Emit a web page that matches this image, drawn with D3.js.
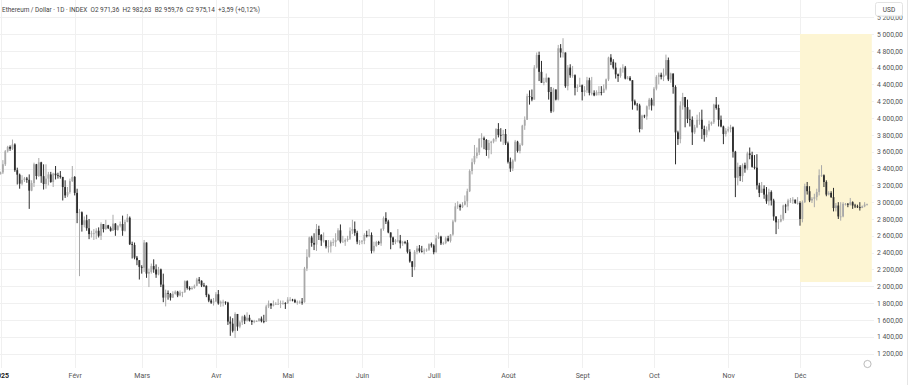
<!DOCTYPE html>
<html><head><meta charset="utf-8">
<script src="https://cdn.jsdelivr.net/npm/d3@7"></script>
<style>
body{margin:0;background:#fff;}
svg{display:block;font-family:Roboto,"Noto Sans",sans-serif;}
</style>
</head><body>
<svg id="c" width="908" height="385"></svg>
<script>
// ---------- DATA ----------
const startDate = "2025-01-01";
const firstOpen = 3332;
const closes = [
3353,3451,3605,3657,3635,3686,3380,3327,3220,3265,3281,3266,3137,3227,3451,3311,3474,3309,3215,3280,3330,3240,3340,3320,3315,3300,3180,3080,3120,3250,3300,
3110,2870,2880,2730,2785,2690,2620,2630,2630,2660,2600,2740,2680,2725,2690,2660,2745,2670,2720,2740,2660,2765,2815,2500,2490,2340,2310,2230,
2220,2520,2150,2170,2240,2200,2140,2200,2020,1865,1920,1910,1865,1910,1935,1890,1925,1930,2060,1980,1965,1980,2005,2080,2065,2010,2005,1895,1830,1805,1820,
1905,1795,1815,1815,1805,1580,1555,1470,1670,1520,1570,1640,1590,1625,1590,1575,1585,1585,1615,1585,1580,1760,1795,1770,1785,1790,1790,1800,1800,1795,
1840,1840,1835,1810,1815,1815,1810,2210,2350,2580,2515,2495,2680,2610,2545,2545,2475,2475,2525,2525,2550,2665,2530,2530,2550,2565,2660,2680,2635,2530,2530,
2540,2610,2595,2610,2420,2480,2525,2510,2680,2810,2770,2640,2580,2525,2545,2545,2510,2525,2520,2410,2295,2230,2410,2450,2420,2415,2425,2435,2500,2485,
2405,2570,2590,2510,2515,2570,2540,2615,2770,2950,2960,2940,2970,3010,3130,3370,3475,3550,3590,3755,3760,3740,3620,3705,3720,3750,3870,3800,3795,3810,3700,
3480,3400,3495,3720,3610,3680,3910,3980,4260,4250,4220,4600,4750,4550,4420,4430,4480,4310,4080,4340,4220,4830,4780,4780,4380,4600,4510,4510,4360,4370,4390,
4310,4330,4450,4300,4300,4270,4310,4310,4300,4350,4460,4720,4670,4600,4520,4500,4590,4600,4470,4480,4450,4200,4160,4150,3870,4030,4020,4140,4220,4150,
4350,4490,4515,4490,4515,4690,4460,4530,4370,3830,3750,4150,4250,4130,3990,3980,3830,3890,3980,3980,3870,3800,3860,3930,3950,4160,4120,3980,3900,3810,3850,
3870,3890,3600,3290,3420,3310,3440,3400,3580,3560,3420,3410,3200,3110,3160,3090,3010,3120,3020,2830,2760,2770,2800,2960,2950,3020,3020,3030,2990,2990,
2800,3000,3190,3130,3020,3040,3060,3120,3320,3320,3240,3090,3110,3060,2930,2960,2830,2830,2980,2980,2970,3000,2960,2950,2940,2930,2950,2971.36,2975.14
];
const highs = [
3363,3500,3620,3670,3675,3745,3700,3410,3340,3320,3300,3300,3330,3260,3470,3455,3525,3480,3450,3450,3360,3360,3350,3430,3350,3370,3300,3260,3180,3280,3430,
3310,3160,2920,2890,2830,2850,2800,2660,2680,2690,2700,2760,2740,2790,2730,2710,2850,2750,2725,2770,2840,2790,2860,2830,2530,2520,2360,2310,
2250,2550,2520,2210,2270,2320,2260,2230,2210,2150,1960,1950,1920,1940,1950,1945,1950,1935,2070,2070,2000,2000,2020,2100,2110,2070,2040,2010,1910,1850,1860,
1930,1955,1830,1840,1820,1815,1640,1620,1690,1670,1590,1650,1660,1690,1660,1600,1600,1595,1620,1640,1660,1780,1830,1790,1830,1810,1850,1830,1830,1810,
1870,1870,1850,1850,1830,1830,1860,2230,2440,2590,2600,2630,2740,2720,2620,2640,2550,2550,2545,2570,2630,2690,2735,2600,2570,2600,2700,2790,2770,2660,2550,
2550,2630,2660,2680,2640,2530,2540,2540,2690,2830,2880,2790,2640,2590,2560,2680,2610,2540,2540,2550,2440,2300,2430,2480,2490,2480,2450,2450,2510,2520,
2500,2610,2640,2600,2530,2590,2600,2620,2790,2990,3010,2980,3000,3080,3160,3390,3520,3680,3650,3760,3820,3780,3750,3740,3730,3760,3880,3940,3880,3860,3870,
3720,3530,3510,3740,3730,3700,3920,4020,4290,4330,4340,4630,4780,4790,4680,4480,4530,4480,4370,4360,4340,4870,4880,4950,4780,4630,4640,4620,4520,4400,4480,
4400,4380,4490,4480,4490,4330,4330,4380,4380,4400,4470,4730,4760,4700,4660,4530,4600,4640,4620,4500,4500,4450,4220,4180,4170,4040,4040,4150,4240,4240,
4370,4510,4540,4540,4590,4755,4720,4540,4530,4390,3850,4200,4300,4250,4220,4100,4020,3920,4040,4070,4100,3910,3900,3970,3960,4170,4250,4160,4030,3910,3880,
3900,3920,3900,3610,3470,3440,3460,3470,3600,3650,3600,3560,3570,3230,3240,3200,3180,3160,3140,3040,2830,2800,2850,2970,2980,3040,3050,3060,3030,3060,
3010,3020,3220,3240,3190,3060,3100,3160,3390,3440,3330,3260,3130,3130,3170,2990,3000,3000,3000,2990,2990,3050,3010,2980,2970,3000,2960,3000,2982.63
];
const lows = [
3330,3334,3430,3590,3610,3620,3360,3210,3160,3200,3240,3230,2920,3130,3180,3270,3300,3230,3150,3160,3200,3230,3180,3270,3280,3280,3020,3050,3060,3100,3240,
3080,2750,2120,2650,2700,2660,2560,2580,2550,2560,2580,2550,2640,2670,2680,2650,2660,2600,2660,2700,2600,2650,2760,2490,2330,2320,2250,2080,
2150,2170,2100,1990,2150,2160,2100,2130,1990,1810,1760,1840,1830,1860,1900,1870,1880,1870,1920,1960,1950,1960,1970,2000,2030,1990,1990,1870,1810,1790,1770,
1810,1780,1755,1760,1780,1540,1410,1450,1385,1470,1500,1540,1550,1580,1580,1540,1560,1575,1580,1570,1560,1575,1740,1730,1760,1780,1780,1740,1780,1730,
1790,1820,1820,1800,1780,1790,1780,1805,2180,2340,2470,2430,2420,2550,2480,2520,2450,2400,2400,2480,2470,2540,2510,2520,2480,2530,2550,2620,2600,2500,2490,
2500,2500,2580,2590,2390,2400,2470,2490,2480,2660,2740,2630,2440,2490,2500,2520,2450,2480,2500,2390,2280,2110,2190,2380,2400,2400,2380,2410,2420,2460,
2380,2400,2560,2490,2490,2500,2530,2520,2600,2760,2920,2900,2930,2960,2940,3120,3330,3450,3520,3560,3650,3630,3550,3520,3570,3700,3720,3770,3720,3680,3680,
3460,3360,3370,3480,3590,3580,3670,3860,3980,4160,4200,4220,4590,4440,4420,4390,4420,4220,4060,4070,4210,4210,4720,4720,4360,4330,4480,4480,4270,4310,4370,
4210,4260,4300,4270,4270,4260,4270,4270,4270,4300,4330,4440,4630,4580,4470,4430,4480,4540,4460,4460,4440,4100,4150,4090,3830,3860,4000,3980,4100,4090,
4140,4330,4400,4460,4440,4500,4440,4420,4290,3450,3680,3700,4100,3890,3940,3900,3680,3810,3880,3920,3750,3720,3770,3840,3910,3930,4100,3900,3890,3690,3780,
3830,3830,3530,3060,3200,3250,3240,3350,3380,3510,3410,3390,3150,3060,3140,3040,2980,2960,2960,2780,2620,2680,2760,2780,2870,2900,2990,2980,2980,2970,
2720,2760,2990,3090,3000,2990,2940,3020,3080,3300,3180,3070,3080,3050,2890,2890,2800,2780,2820,2960,2940,2960,2920,2930,2930,2900,2930,2940,2959.76
];
const monthStarts = ["2025-01-01","2025-02-01","2025-03-01","2025-04-01","2025-05-01","2025-06-01","2025-07-01","2025-08-01","2025-09-01","2025-10-01","2025-11-01","2025-12-01"];
const monthLabels = ["2025","Févr","Mars","Avr","Mai","Juin","Juill","Août","Sept","Oct","Nov","Déc"];
const priceTicks = [1200,1400,1600,1800,2000,2200,2400,2600,2800,3000,3200,3400,3600,3800,4000,4200,4400,4600,4800,5000,5200];
const highlight = {from:"2025-12-01", to:"2025-12-31", low:2050, high:5000};
const headerTitle = "Ethereum / Dollar · 1D · INDEX";
const headerValues = ["O2 971,36","H2 982,63","B2 959,76","C2 975,14","+3,59 (+0,12%)"];
const currency = "USD";

// ---------- CHART ----------
const W = 908, H = 385, plotRight = 874, plotBottom = 368;
const svg = d3.select("#c");
const parse = d3.utcParse("%Y-%m-%d");
const x = d3.scaleUtc().domain([parse("2025-01-01"), parse("2025-12-01")]).range([0.5, 800]);
const y = d3.scaleLinear().domain([1200, 5000]).range([353.5, 34]);

const locale = d3.formatLocale({decimal:",", thousands:" ", grouping:[3], currency:["",""]});
const fmt = locale.format(",.2f");

svg.append("rect").attr("width",W).attr("height",H).attr("fill","#fff");
svg.append("defs").append("clipPath").attr("id","plot")
  .append("rect").attr("x",0).attr("y",0).attr("width",plotRight).attr("height",plotBottom);

const plot = svg.append("g").attr("clip-path","url(#plot)");

// grid
plot.append("g").selectAll("line").data(priceTicks).join("line")
  .attr("x1",0).attr("x2",plotRight)
  .attr("y1",d=>Math.round(y(d))+0.5).attr("y2",d=>Math.round(y(d))+0.5)
  .attr("stroke","#f0f0f0").attr("stroke-width",1);
plot.append("g").selectAll("line").data(monthStarts).join("line")
  .attr("x1",d=>Math.round(x(parse(d)))+0.5).attr("x2",d=>Math.round(x(parse(d)))+0.5)
  .attr("y1",0).attr("y2",plotBottom)
  .attr("stroke","#f0f0f0").attr("stroke-width",1);

// highlight zone
plot.append("rect")
  .attr("x",x(parse(highlight.from)))
  .attr("y",y(highlight.high))
  .attr("width",x(parse(highlight.to))-x(parse(highlight.from)))
  .attr("height",y(highlight.low)-y(highlight.high))
  .attr("fill","#fdf5d3");

// candles
const t0 = parse(startDate);
const candles = closes.map((c,i)=>({
  date:d3.utcDay.offset(t0,i),
  o: i===0 ? firstOpen : closes[i-1],
  h: highs[i], l: lows[i], c
}));
const up = "#a9a9a9", down = "#2d2d2d";
const cg = plot.append("g");
cg.selectAll("line").data(candles).join("line")
  .attr("x1",d=>x(d.date)).attr("x2",d=>x(d.date))
  .attr("y1",d=>y(Math.max(d.h,d.o,d.c))).attr("y2",d=>y(Math.min(d.l,d.o,d.c)))
  .attr("stroke",d=>d.c>=d.o?up:down).attr("stroke-width",1);
cg.selectAll("rect").data(candles).join("rect")
  .attr("x",d=>x(d.date)-0.9).attr("width",1.8)
  .attr("y",d=>y(Math.max(d.o,d.c)))
  .attr("height",d=>Math.max(0.8, Math.abs(y(d.o)-y(d.c))))
  .attr("fill",d=>d.c>=d.o?up:down);

// y axis
const ya = svg.append("g").attr("transform",`translate(${plotRight+2},0)`)
  .call(d3.axisRight(y).tickValues(priceTicks).tickSize(0).tickPadding(1).tickFormat(fmt));
ya.select(".domain").remove();
ya.selectAll("text").attr("fill","#555").style("font-size","6.8px").style("font-family","Roboto,'Noto Sans',sans-serif");

// x axis
const xa = svg.append("g").attr("transform",`translate(0,${plotBottom})`)
  .call(d3.axisBottom(x).tickValues(monthStarts.map(parse)).tickSize(0).tickPadding(5)
    .tickFormat((d,i)=>monthLabels[i]));
xa.select(".domain").remove();
xa.selectAll("text").style("font-size","7px").style("font-family","Roboto,'Noto Sans',sans-serif")
  .style("font-weight",(d,i)=>i===0?"700":"400").attr("fill",(d,i)=>i===0?"#222":"#555");

// USD box
svg.append("rect").attr("x",875.5).attr("y",2.5).attr("width",27).attr("height",13.5).attr("rx",2)
  .attr("fill","#fff").attr("stroke","#e3e3e3");
svg.append("text").attr("x",889).attr("y",11.5).attr("text-anchor","middle")
  .attr("fill","#444").style("font-size","6.5px").text(currency);

// header: a single line fitted to the reference width
const gap = "\u00A0\u00A0";
svg.append("text").attr("x",2).attr("y",12)
  .attr("textLength",258).attr("lengthAdjust","spacingAndGlyphs")
  .attr("fill","#444").style("font-size","7px")
  .text(headerTitle + gap + headerValues.join(gap));

// bottom-right scroll icon
svg.append("circle").attr("cx",867.5).attr("cy",364).attr("r",3.6).attr("fill","none").attr("stroke","#aaa").attr("stroke-width",0.8);

// right border
svg.append("line").attr("x1",907.5).attr("x2",907.5).attr("y1",0).attr("y2",H).attr("stroke","#e6e6e6");
</script>
</body></html>
